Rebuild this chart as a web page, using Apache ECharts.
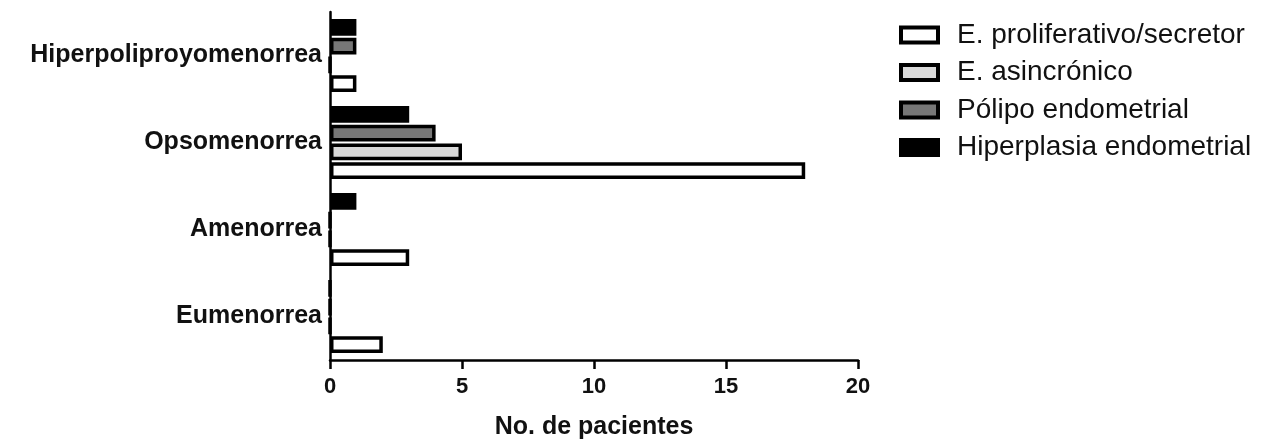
<!DOCTYPE html>
<html lang="es">
<head>
    <meta charset="utf-8">
    <title>No. de pacientes</title>
    <script src="https://cdn.jsdelivr.net/npm/echarts@6/dist/echarts.min.js"></script>
</head>
<body style="margin:0;background:#fff;">
    <div id="main" style="width: 1264px;height:447px;"></div>
    <script type="text/javascript">
        // categorias (de abajo hacia arriba)
        var categorias = ['Eumenorrea', 'Amenorrea', 'Opsomenorrea', 'Hiperpoliproyomenorrea'];
        var proliferativo = [2, 3, 18, 1];
        var asincronico = [0, 0, 5, 0];
        var polipo = [0, 0, 4, 1];
        var hiperplasia = [0, 1, 3, 1];
        var ticksX = [0, 5, 10, 15, 20];

        var nombres = ['E. proliferativo/secretor', 'E. asincrónico', 'Pólipo endometrial', 'Hiperplasia endometrial'];

        var myChart = echarts.init(document.getElementById('main'));

        function serie(nombre, datos, color) {
            return {
                name: nombre,
                type: 'bar',
                data: datos,
                barGap: '12%',
                barCategoryGap: '16%',
                itemStyle: { color: color, borderColor: '#000', borderWidth: 3.5 }
            };
        }

        var option = {
            animation: false,
            textStyle: { fontFamily: 'Liberation Sans, Arial, sans-serif' },
            grid: { left: 330, right: 406, top: 12, bottom: 87 },
            legend: {
                orient: 'vertical',
                left: 894,
                top: 16,
                icon: 'rect',
                itemWidth: 37,
                itemHeight: 15,
                itemGap: 9.5,
                itemStyle: { borderWidth: 4 },
                textStyle: { fontSize: 28, color: '#111', lineHeight: 28, padding: [0, 0, 0, 14] },
                data: nombres
            },
            xAxis: {
                type: 'value',
                min: ticksX[0],
                max: ticksX[ticksX.length - 1],
                interval: 5,
                name: 'No. de pacientes',
                nameLocation: 'middle',
                nameGap: 55,
                nameTextStyle: { fontSize: 25, fontWeight: 'bold', color: '#111' },
                axisLine: { show: true, lineStyle: { color: '#000', width: 2.5 } },
                axisTick: { show: true, length: 9, lineStyle: { color: '#000', width: 2.5 } },
                axisLabel: { fontSize: 22, fontWeight: 'bold', color: '#111', margin: 16 },
                splitLine: { show: false }
            },
            yAxis: {
                type: 'category',
                data: categorias,
                axisLine: { show: true, lineStyle: { color: '#000', width: 2.5 } },
                axisTick: { show: false },
                axisLabel: { fontSize: 25, fontWeight: 'bold', color: '#111', margin: 8 }
            },
            // el orden se invierte para que la primera serie quede abajo en cada grupo
            series: [
                serie(nombres[3], hiperplasia, '#000000'),
                serie(nombres[2], polipo, '#777777'),
                serie(nombres[1], asincronico, '#d9d9d9'),
                serie(nombres[0], proliferativo, '#ffffff')
            ]
        };

        myChart.setOption(option);
    </script>
</body>
</html>
